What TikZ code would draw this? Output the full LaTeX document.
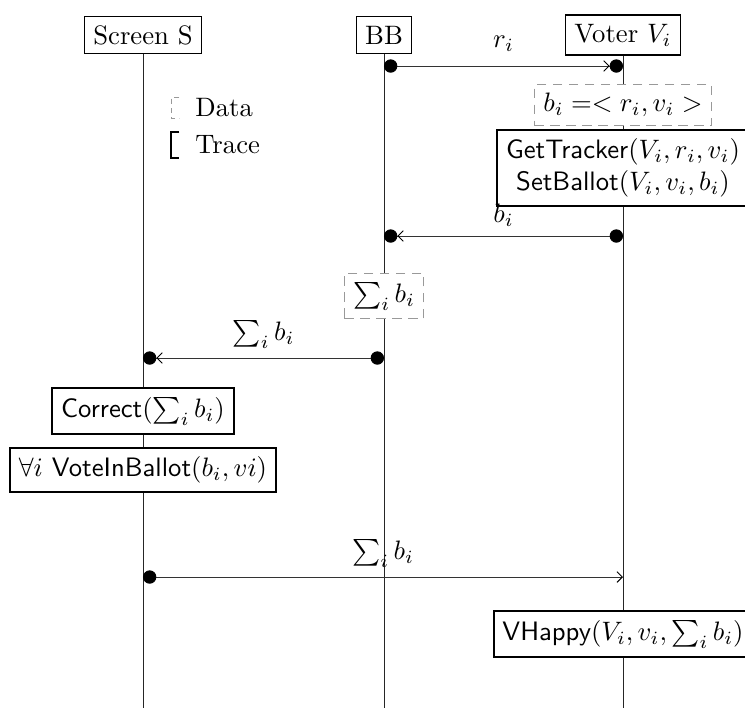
\documentclass[tikz,border=0pt]{standalone}
\usetikzlibrary{positioning, arrows.meta}
\begin{document}
\begin{tikzpicture}[
x=0.375pt, y=-0.375pt,
actor/.style={rectangle, draw=black, fill=white, minimum height=14pt},
datanode/.style={rectangle, draw=black!40, dash pattern=on 3.5pt off 2.5pt, fill=white, minimum height=14pt},
tracenode/.style={rectangle, draw=black, thick, fill=white, font=\sffamily, align=center},
lifeline/.style={draw=black!85, line width=0.3pt},
msg/.style={draw=black!80, line width=0.35pt, {Circle[length=5pt, black]}-{Straight Barb[length=2pt,width=4pt, black] Circle[length=5pt, black]}},
msgopen/.style={draw=black!80, line width=0.35pt, {Circle[length=5pt, black]}-{Straight Barb[length=2pt,width=4pt, black]}},
]
\useasboundingbox (0,0) rectangle (745,710);

% actors and their lifelines
\node[actor]      (screen)   at (143,35)   {Screen S};
\node[actor]      (bb)       at (384,35)   {BB};
\node[actor]      (voter)    at (623,35)   {Voter $V_i$};

\coordinate (screenend) at (143,708);
\coordinate (bbend)     at (384,708);
\coordinate (voterend)  at (623,708);

\draw[lifeline] (screen) -- (screenend);
\draw[lifeline] (bb) -- (bbend);
\draw[lifeline] (voter) -- (voterend);

% legend
\node[right]      (datakey)  at (186,108)  {Data};
\node[right]      (tracekey) at (186,145)  {Trace};
\draw[draw=black!40, dash pattern=on 2pt off 1.5pt]
  ([xshift=-2.5pt, yshift=-3pt]datakey.north west) -- ([xshift=-5.5pt, yshift=-3pt]datakey.north west)
  -- ([xshift=-5.5pt, yshift=3pt]datakey.south west) -- ([xshift=-2.5pt, yshift=3pt]datakey.south west);
\draw[thick]
  ([xshift=-2.5pt, yshift=-2pt]tracekey.north west) -- ([xshift=-5.5pt, yshift=-2pt]tracekey.north west)
  -- ([xshift=-5.5pt, yshift=2pt]tracekey.south west) -- ([xshift=-2.5pt, yshift=2pt]tracekey.south west);

% data and trace boxes on the lifelines
\node[datanode]   (ballot)   at (623,105)  {$b_i =< r_i, v_i >$};
\node[tracenode]  (track)    at (623,168)  {GetTracker$(V_i, r_i, v_i)$\\SetBallot$(V_i, v_i, b_i)$};
\node[datanode, minimum height=17pt] (tally) at (384,296) {$\sum_i b_i$};
\node[tracenode]  (correct)  at (143,411)  {Correct$(\sum_i b_i)$};
\node[tracenode]  (inballot) at (143,470)  {$\forall i$ VoteInBallot$(b_i, vi)$};
\node[tracenode]  (happy)    at (623,634)  {VHappy$(V_i, v_i, \sum_i b_i)$};

% messages
\coordinate (bbr)      at (384,66);
\coordinate (voterr)   at (623,66);
\coordinate (voterb)   at (623,236);
\coordinate (bbb)      at (384,236);
\coordinate (bbsum)    at (384,358);
\coordinate (screensum) at (143,358);
\coordinate (screenout) at (143,577);
\coordinate (voterin)  at (623,577);

\draw[msg] (bbr) -- node[above, yshift=2pt] {$r_i$} (voterr);
\draw[msg] (voterb) -- node[above] {$b_i$} (bbb);
\draw[msg] (bbsum) -- node[above] {$\sum_i b_i$} (screensum);
\draw[msgopen] (screenout) -- node[above] {$\sum_i b_i$} (voterin);

\end{tikzpicture}
\end{document}
